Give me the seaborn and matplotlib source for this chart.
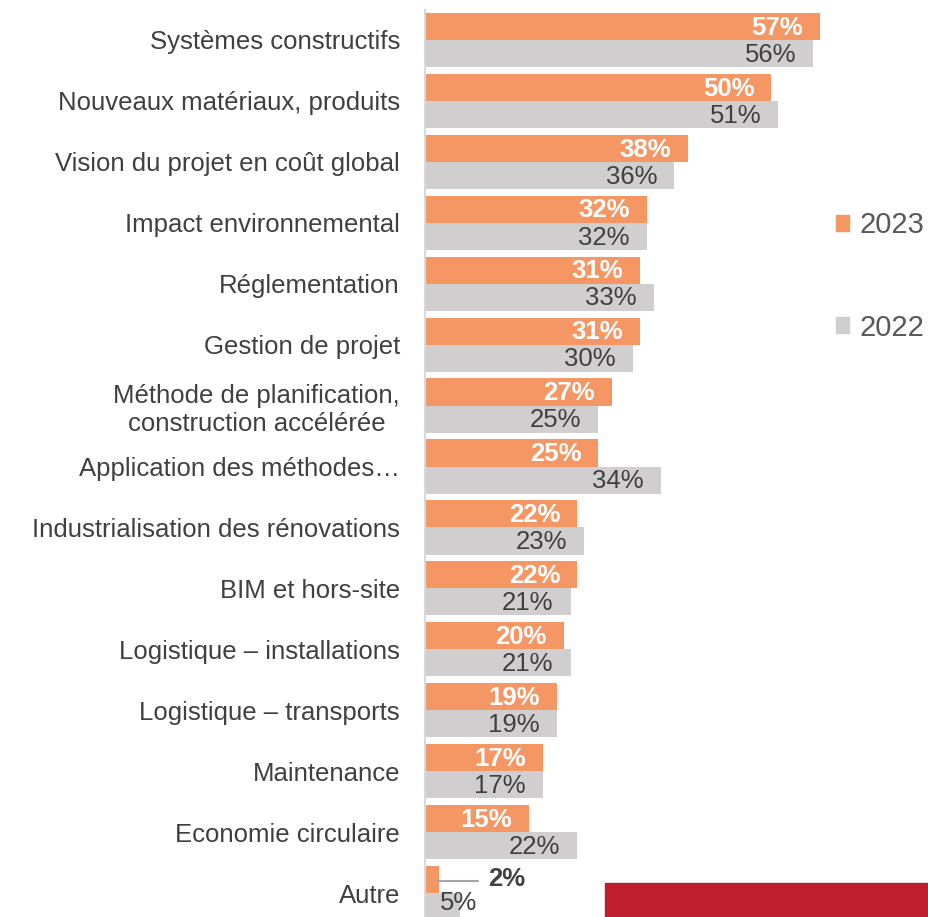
import pandas as pd
import matplotlib.pyplot as plt
import seaborn as sns
from matplotlib.patches import Patch, Rectangle

# Données (% de répondants)
categories = [
    "Systèmes constructifs",
    "Nouveaux matériaux, produits",
    "Vision du projet en coût global",
    "Impact environnemental",
    "Réglementation",
    "Gestion de projet",
    "Méthode de planification,\nconstruction accélérée",
    "Application des méthodes…",
    "Industrialisation des rénovations",
    "BIM et hors-site",
    "Logistique – installations",
    "Logistique – transports",
    "Maintenance",
    "Economie circulaire",
    "Autre",
]
values_2023 = [57, 50, 38, 32, 31, 31, 27, 25, 22, 22, 20, 19, 17, 15, 2]
values_2022 = [56, 51, 36, 32, 33, 30, 25, 34, 23, 21, 21, 19, 17, 22, 5]
years = ["2023", "2022"]

df = pd.DataFrame({
    "categorie": categories * 2,
    "valeur": values_2023 + values_2022,
    "annee": [years[0]] * len(categories) + [years[1]] * len(categories),
})

ORANGE = "#F59764"
GRIS = "#D0CECF"
TEXTE = "#404040"

sns.set_style("white")
plt.rcParams["font.family"] = ["Liberation Sans", "DejaVu Sans"]

fig = plt.figure(figsize=(9.29, 9.17), dpi=100)
W, H = 929, 917
ax = fig.add_axes([425 / W, 0, 1 - 425 / W, 1])

sns.barplot(data=df, y="categorie", x="valeur", hue="annee", order=categories,
            hue_order=years, palette=[ORANGE, GRIS], width=0.89, saturation=1,
            linewidth=0, orient="h", legend=False, ax=ax)

# échelle : ~6.93 px par point de %
px = 6.93
ax.set_xlim(0, (W - 425) / px)
ax.set_ylim((H - 40) / 60.93, -40 / 60.93)

ax.set_xlabel("")
ax.set_ylabel("")
ax.set_xticks([])
ax.tick_params(axis="y", length=0, pad=18, labelsize=18.5, labelcolor=TEXTE)
for lbl in ax.get_yticklabels():
    lbl.set_multialignment("center")

for s in ["top", "right", "bottom"]:
    ax.spines[s].set_visible(False)
ax.spines["left"].set_color("#D9D9D9")
ax.spines["left"].set_linewidth(1.5)
ax.spines["left"].set_bounds(len(categories) - 0.3, -0.5)

pad = 17 / px
for cont, vals, col, wt in [(ax.containers[0], values_2023, "white", "bold"),
                            (ax.containers[1], values_2022, TEXTE, "normal")]:
    for bar, v in zip(cont, vals):
        yc = bar.get_y() + bar.get_height() / 2
        if v < 5 and col == "white":
            # petite valeur : étiquette déportée avec trait de rappel
            ax.plot([v - 0.3, 7.6], [yc + 0.02, yc + 0.02], color="#A6A6A6", lw=1.5)
            ax.text(9.1, yc, f"{v}%", ha="left", va="center",
                    fontsize=18.5, fontweight="bold", color=TEXTE)
            continue
        x = max(v - pad, 7.6)
        dy = -0.06 if v < 7 else 0.02
        ax.text(x, yc + dy, f"{v}%", ha="right", va="center",
                fontsize=18.5, fontweight=wt, color=col)

handles = [Patch(color=ORANGE, label=years[0]), Patch(color=GRIS, label=years[1])]
fig.legend(handles=handles, loc="center left", bbox_to_anchor=(836 / W, 1 - 276.5 / H),
           frameon=False, fontsize=21, labelcolor="#595959", handlelength=0.45,
           handleheight=0.45, handletextpad=0.35, labelspacing=2.55,
           borderpad=0, borderaxespad=0)

# bandeau rouge en bas à droite
fig.patches.append(Rectangle((605 / W, 0), 1 - 605 / W, 34 / H,
                             transform=fig.transFigure, color="#BE1E2D", zorder=5))

plt.savefig("out.png", dpi=100)
